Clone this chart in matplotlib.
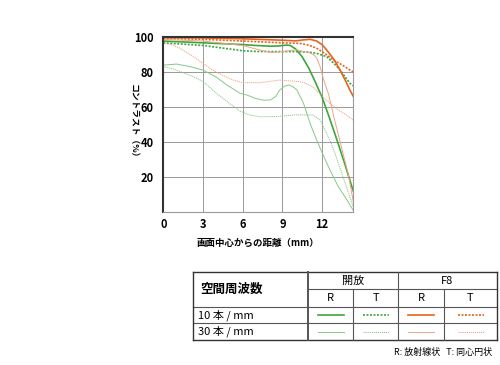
import matplotlib
matplotlib.use("Agg")
import matplotlib.pyplot as plt
from matplotlib.lines import Line2D

plt.rcParams['font.family'] = ['Noto Sans CJK JP', 'DejaVu Sans']

# MTF data (distance from centre in mm, contrast %)
x_10r_open = [0, 3, 6, 7, 8, 8.7, 9.3, 9.6, 10, 10.5, 11, 11.5, 12, 12.5, 13, 13.7, 14.36]
y_10r_open = [97.5, 96.5, 95.5, 95, 94.6, 94.7, 95.2, 95, 93, 88.5, 82, 74, 65.5, 55, 44, 28, 12]

x_10t_open = [0, 3, 5, 6, 7, 8, 10, 11, 11.6, 12.35, 13, 13.36, 14.1, 14.36]
y_10t_open = [96.5, 95, 93, 92, 91.6, 91.5, 91.5, 91.2, 90.5, 88.6, 84, 81, 73.5, 72]

x_30r_open = [0, 1, 2, 3, 4, 4.8, 5.8, 6.3, 7, 7.6, 8.1, 8.5, 8.8, 9.2, 9.5, 9.8, 10.1,
              10.6, 11.1, 11.6, 12, 12.6, 13.2, 13.8, 14.36]
y_30r_open = [83.8, 84.4, 83, 81, 77, 72.5, 67.8, 66.8, 64.8, 63.8, 64, 66, 69.6, 72, 72.5,
              71.5, 69.6, 62, 50.5, 41, 34, 24, 15, 8, 1]

x_30t_open = [0, 1, 2.27, 3, 4, 5, 5.8, 6.5, 7.3, 8.5, 10, 11.3, 11.85, 12.2, 12.6, 13, 13.5, 14, 14.36]
y_30t_open = [83, 81, 77.2, 74.5, 67.8, 62, 57.6, 55.5, 54.4, 54.5, 55.5, 55.4, 52.6, 47, 41, 33, 22, 11, 3]

x_10r_f8 = [0, 3, 6, 9, 10, 10.6, 11.1, 11.6, 12, 12.35, 12.9, 13.36, 13.8, 14.1, 14.36]
y_10r_f8 = [99.5, 99.3, 98.8, 98, 97.6, 98.2, 98.5, 97.5, 95.5, 92.4, 87, 81, 74.5, 69.6, 66]

x_10t_f8 = [0, 3, 6, 9, 10.3, 11, 11.6, 12.2, 12.85, 13.5, 14.1, 14.36]
y_10t_f8 = [99, 98.5, 97.5, 96.5, 96.2, 95.2, 93.4, 90.5, 86.7, 84, 81, 80]

x_30r_f8 = [0, 3, 6, 7, 7.5, 8.2, 9, 10, 11, 11.4, 11.6, 11.85, 12.1, 12.5, 12.9, 13.5, 14, 14.36]
y_30r_f8 = [98.5, 97.5, 95, 93, 92, 91, 91.5, 92.5, 91, 89.5, 87.7, 83, 76, 67, 54, 36, 21, 6]

x_30t_f8 = [0, 0.6, 1.26, 2, 3, 3.7, 4.5, 5.2, 6, 7.3, 8.8, 10.3, 10.8, 11.3, 12, 12.6, 13.2, 13.8, 14.36]
y_30t_f8 = [96.2, 95.5, 93.4, 90, 84.8, 81, 78, 75.5, 73.8, 73.8, 75.3, 74.4, 73.3, 71.5, 66,
            62, 58.5, 55.5, 52.5]

x_ticks = [0, 3, 6, 9, 12]
y_ticks = [20, 40, 60, 80, 100]

green = '#3da63d'
green_l = '#88c888'
orange = '#e8621e'
orange_l = '#f0a384'
dot = (0, (1.2, 0.9))

series = [
    (x_10r_open, y_10r_open, green, '-', 1.2),
    (x_10t_open, y_10t_open, green, dot, 1.2),
    (x_30r_open, y_30r_open, green_l, '-', 0.7),
    (x_30t_open, y_30t_open, green_l, dot, 0.7),
    (x_10r_f8, y_10r_f8, orange, '-', 1.2),
    (x_10t_f8, y_10t_f8, orange, dot, 1.2),
    (x_30r_f8, y_30r_f8, orange_l, '-', 0.7),
    (x_30t_f8, y_30t_f8, orange_l, dot, 0.7),
]

fig = plt.figure(figsize=(5, 3.65), dpi=100)
ax = fig.add_axes([0.3266, 0.4184, 0.38, 0.4811])

for xs, ys, c, ls, lw in series:
    ax.plot(xs, ys, color=c, linestyle=ls, linewidth=lw)

ax.set_xlim(0, 14.36)
ax.set_ylim(0, 100)
ax.set_xticks(x_ticks)
ax.set_yticks(y_ticks)
ax.grid(True, color='#999999', linewidth=0.7)
ax.set_axisbelow(True)
ax.tick_params(length=0, labelsize=8)
ax.tick_params(axis='x', pad=4)
ax.tick_params(axis='y', pad=7)
for lab in ax.get_xticklabels() + ax.get_yticklabels():
    lab.set_fontweight('bold')
for s in ['left', 'top']:
    ax.spines[s].set_color('#333333')
    ax.spines[s].set_linewidth(1.5)
for s in ['right', 'bottom']:
    ax.spines[s].set_color('#999999')
    ax.spines[s].set_linewidth(0.8)

fig.text(133.5 / 500, 1 - 123 / 365, 'コントラスト（%）', rotation=-90, fontsize=6.3,
         fontweight='bold', ha='center', va='center')
fig.text(258 / 500, 1 - 243 / 365, '画面中心からの距離（mm）', fontsize=6.8,
         fontweight='bold', ha='center', va='center')

# table legend
W, H = 500.0, 365.0
def fx(px):
    return px / W
def fy(py):
    return 1 - py / H
def hline(x0, x1, y, lw=0.8, c='#555555'):
    fig.add_artist(Line2D([fx(x0), fx(x1)], [fy(y), fy(y)], color=c, linewidth=lw))
def vline(x, y0, y1, lw=0.8, c='#555555'):
    fig.add_artist(Line2D([fx(x), fx(x)], [fy(y0), fy(y1)], color=c, linewidth=lw))

tl, tr, tt, tb = 193.3, 496.7, 271.7, 340
hline(tl, tr, tt, 1.0, '#333333')
hline(tl, tr, tb, 1.0, '#333333')
hline(308.3, tr, 289.3)
hline(tl, tr, 306.7)
hline(tl, tr, 323.3)
vline(tl, tt, tb, 1.0, '#333333')
vline(tr, tt, tb, 1.0, '#333333')
vline(308.3, tt, tb, 1.4)
vline(398.3, tt, tb)
vline(353.3, 289.3, tb)
vline(444.3, 289.3, tb)

tkw = dict(fontsize=8, ha='center', va='center')
fig.text(fx(200), fy(289), '空間周波数', fontsize=9, fontweight='bold', ha='left', va='center')
fig.text(fx(353.3), fy(280.5), '開放', **tkw)
fig.text(fx(447.5), fy(280.5), 'F8', **tkw)
cells = [330.8, 375.8, 421.3, 470.5]
for cx, t in zip(cells, ['R', 'T', 'R', 'T']):
    fig.text(fx(cx), fy(298), t, **tkw)
fig.text(fx(198), fy(315), '10 本 / mm', fontsize=8, ha='left', va='center')
fig.text(fx(198), fy(331.5), '30 本 / mm', fontsize=8, ha='left', va='center')

for i, (xs, ys, c, ls, lw) in enumerate(series):
    row = 315 if i % 4 < 2 else 331.5
    cx = cells[(i // 4) * 2 + i % 2]
    fig.add_artist(Line2D([fx(cx - 13), fx(cx + 13)], [fy(row), fy(row)],
                          color=c, linestyle=ls, linewidth=lw))

fig.text(fx(492), fy(352), 'R: 放射線状   T: 同心円状', fontsize=6.5, ha='right', va='center')

fig.savefig('out.png', dpi=100)
